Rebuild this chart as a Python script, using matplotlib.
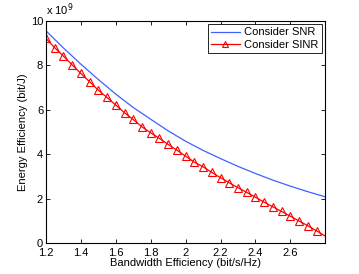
import matplotlib.pyplot as plt
from matplotlib.ticker import FuncFormatter

plt.rcParams['font.family'] = ['Liberation Sans', 'DejaVu Sans']

# blue curve (SNR), energy efficiency in units of 1e9 bit/J
se_snr = [1.2, 1.3, 1.4, 1.5, 1.6, 1.7, 1.8, 1.9, 2.0, 2.1, 2.2, 2.3, 2.4,
          2.5, 2.6, 2.7, 2.8]
ee_snr = [9.55, 8.78, 8.05, 7.36, 6.70, 6.10, 5.57, 5.05, 4.58, 4.17, 3.80,
          3.45, 3.13, 2.83, 2.56, 2.31, 2.08]

# red curve (SINR), markers every 0.05, last point has no marker
se_sinr = [1.2, 1.25, 1.3, 1.35, 1.4, 1.45, 1.5, 1.55, 1.6, 1.65, 1.7, 1.75,
           1.8, 1.85, 1.9, 1.95, 2.0, 2.05, 2.1, 2.15, 2.2, 2.25, 2.3, 2.35,
           2.4, 2.45, 2.5, 2.55, 2.6, 2.65, 2.7, 2.75, 2.8]
ee_sinr = [9.21, 8.79, 8.41, 8.02, 7.63, 7.26, 6.88, 6.55, 6.21, 5.86, 5.56,
           5.23, 4.96, 4.71, 4.44, 4.18, 3.91, 3.64, 3.43, 3.18, 2.94, 2.71,
           2.49, 2.28, 2.06, 1.84, 1.63, 1.42, 1.21, 0.99, 0.78, 0.55, 0.31]

x_ticks = [1.2, 1.4, 1.6, 1.8, 2.0, 2.2, 2.4, 2.6]
y_ticks = [0, 2, 4, 6, 8, 10]

fig = plt.figure(figsize=(3.59, 2.74), dpi=100)
ax = fig.add_axes([0.128, 0.113, 0.778, 0.811])

ax.plot(se_snr, ee_snr, color='#4060ff', lw=0.9, label='Consider SNR')
ax.plot(se_sinr, ee_sinr, color='red', lw=0.9, marker='^', markersize=5.5,
        markerfacecolor='none', markeredgecolor='red', markeredgewidth=0.8,
        markevery=list(range(len(se_sinr) - 1)), label='Consider SINR')

ax.set_xlim(1.2, 2.8)
ax.set_ylim(0, 10)
ax.set_xticks(x_ticks)
ax.set_yticks(y_ticks)
ax.xaxis.set_major_formatter(FuncFormatter(lambda v, p: '%g' % v))
ax.tick_params(direction='in', top=True, right=True, labelsize=8,
               length=3, width=0.6, pad=2)
ax.tick_params(axis='x', pad=3.5)
for s in ax.spines.values():
    s.set_linewidth(0.8)

ax.text(0.0, 1.012, r'x 10$^9$', transform=ax.transAxes, fontsize=8,
        ha='left', va='bottom')

ax.set_xlabel('Bandwidth Efficiency (bit/s/Hz)', fontsize=8, labelpad=0)
ax.set_ylabel('Energy Efficiency (bit/J)', fontsize=8, labelpad=2)

leg = ax.legend(loc='upper right', fontsize=8, fancybox=False,
                framealpha=1, edgecolor='black', borderpad=0.3,
                handlelength=2.6, handletextpad=0.4, labelspacing=0.2,
                borderaxespad=0.3, markerscale=0.7)
leg.get_frame().set_linewidth(0.6)

fig.savefig('out.png', dpi=100)
